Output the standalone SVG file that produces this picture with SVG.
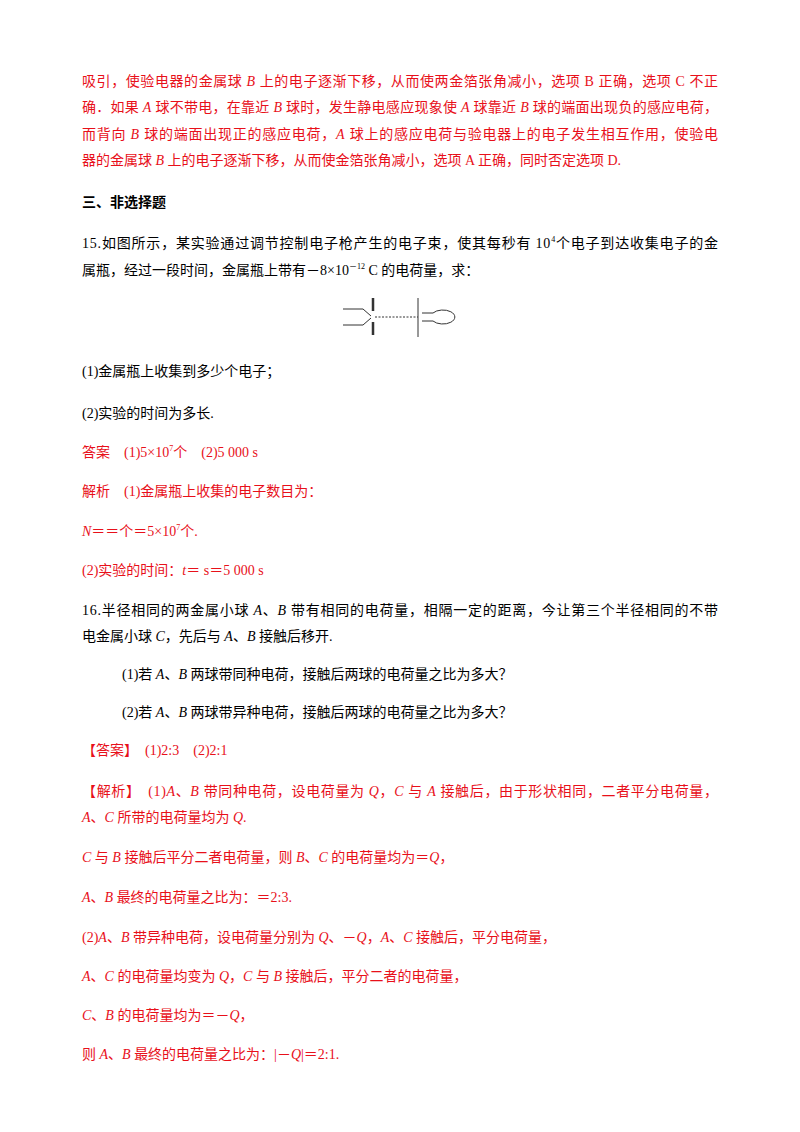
<svg xmlns="http://www.w3.org/2000/svg" width="800" height="1132" viewBox="0 0 800 1132">
<style>
text{font-family:"Liberation Serif","Noto Sans CJK SC",serif;font-size:14px;fill:#000}
.r{fill:#e8101a}
.i{font-style:italic}
.b{font-weight:bold;font-family:"Liberation Sans","Noto Sans CJK SC",sans-serif}
.sup{font-size:8px}
</style>
<rect width="800" height="1132" fill="#fff"/>
<text class="r" x="82" y="86" textLength="636" lengthAdjust="spacing">吸引，使验电器的金属球 <tspan class="i">B</tspan> 上的电子逐渐下移，从而使两金箔张角减小，选项 B 正确，选项 C 不正</text>
<text class="r" x="82" y="112" textLength="636" lengthAdjust="spacing">确．如果 <tspan class="i">A</tspan> 球不带电，在靠近 <tspan class="i">B</tspan> 球时，发生静电感应现象使 <tspan class="i">A</tspan> 球靠近 <tspan class="i">B</tspan> 球的端面出现负的感应电荷，</text>
<text class="r" x="82" y="139" textLength="636" lengthAdjust="spacing">而背向 <tspan class="i">B</tspan> 球的端面出现正的感应电荷，<tspan class="i">A</tspan> 球上的感应电荷与验电器上的电子发生相互作用，使验电</text>
<text class="r" x="82" y="165">器的金属球 <tspan class="i">B</tspan> 上的电子逐渐下移，从而使金箔张角减小，选项 A 正确，同时否定选项 D.</text>
<text class="b" x="82" y="207">三、非选择题</text>
<text x="82" y="248" textLength="636" lengthAdjust="spacing">15.如图所示，某实验通过调节控制电子枪产生的电子束，使其每秒有 10<tspan class="sup" dy="-6">4</tspan><tspan dy="6">个电子到达收集电子的金</tspan></text>
<text x="82" y="275">属瓶，经过一段时间，金属瓶上带有－8×10<tspan class="sup" dy="-6">－12</tspan><tspan dy="6">  C 的电荷量，求：</tspan></text>
<g id="figure" fill="none" stroke="#333">
<path d="M343 309H363L371 316M343 325H363L371 318" stroke-width="1"/>
<path d="M373 298V311M373 322V335" stroke-width="2.5"/>
<path d="M375 317H418" stroke-dasharray="2 1.5" stroke-width="1"/>
<path d="M418 298V337" stroke-width="1"/>
<path d="M422 313H433A12 7 0 1 1 433 321H422" stroke-width="1"/>
</g>
<text x="82" y="376">(1)金属瓶上收集到多少个电子；</text>
<text x="82" y="418">(2)实验的时间为多长.</text>
<text class="r" x="82" y="457">答案　(1)5×10<tspan class="sup" dy="-6">7</tspan><tspan dy="6">个　(2)5 000 s</tspan></text>
<text class="r" x="82" y="496">解析　(1)金属瓶上收集的电子数目为：</text>
<text class="r" x="82" y="536"><tspan class="i">N</tspan>＝＝个＝5×10<tspan class="sup" dy="-6">7</tspan><tspan dy="6">个.</tspan></text>
<text class="r" x="82" y="575">(2)实验的时间：<tspan class="i">t</tspan>＝ s＝5 000 s</text>
<text x="82" y="615" textLength="636" lengthAdjust="spacing">16.半径相同的两金属小球 <tspan class="i">A</tspan>、<tspan class="i">B</tspan> 带有相同的电荷量，相隔一定的距离，今让第三个半径相同的不带</text>
<text x="82" y="641">电金属小球 <tspan class="i">C</tspan>，先后与 <tspan class="i">A</tspan>、<tspan class="i">B</tspan> 接触后移开.</text>
<text x="122" y="679">(1)若 <tspan class="i">A</tspan>、<tspan class="i">B</tspan> 两球带同种电荷，接触后两球的电荷量之比为多大？</text>
<text x="122" y="717">(2)若 <tspan class="i">A</tspan>、<tspan class="i">B</tspan> 两球带异种电荷，接触后两球的电荷量之比为多大？</text>
<text class="r" x="82" y="755">【答案】　(1)2:3　(2)2:1</text>
<text class="r" x="82" y="796" textLength="636" lengthAdjust="spacing">【解析】　(1)<tspan class="i">A</tspan>、<tspan class="i">B</tspan> 带同种电荷，设电荷量为 <tspan class="i">Q</tspan>，<tspan class="i">C</tspan> 与 <tspan class="i">A</tspan> 接触后，由于形状相同，二者平分电荷量，</text>
<text class="r" x="82" y="822"><tspan class="i">A</tspan>、<tspan class="i">C</tspan> 所带的电荷量均为 <tspan class="i">Q</tspan>.</text>
<text class="r" x="82" y="862"><tspan class="i">C</tspan> 与 <tspan class="i">B</tspan> 接触后平分二者电荷量，则 <tspan class="i">B</tspan>、<tspan class="i">C</tspan> 的电荷量均为＝<tspan class="i">Q</tspan>，</text>
<text class="r" x="82" y="902"><tspan class="i">A</tspan>、<tspan class="i">B</tspan> 最终的电荷量之比为：＝2:3.</text>
<text class="r" x="82" y="942">(2)<tspan class="i">A</tspan>、<tspan class="i">B</tspan> 带异种电荷，设电荷量分别为 <tspan class="i">Q</tspan>、－<tspan class="i">Q</tspan>，<tspan class="i">A</tspan>、<tspan class="i">C</tspan> 接触后，平分电荷量，</text>
<text class="r" x="82" y="981"><tspan class="i">A</tspan>、<tspan class="i">C</tspan> 的电荷量均变为 <tspan class="i">Q</tspan>，<tspan class="i">C</tspan> 与 <tspan class="i">B</tspan> 接触后，平分二者的电荷量，</text>
<text class="r" x="82" y="1020"><tspan class="i">C</tspan>、<tspan class="i">B</tspan> 的电荷量均为＝－<tspan class="i">Q</tspan>，</text>
<text class="r" x="82" y="1059">则 <tspan class="i">A</tspan>、<tspan class="i">B</tspan> 最终的电荷量之比为：|－<tspan class="i">Q</tspan>|＝2:1.</text>
</svg>
